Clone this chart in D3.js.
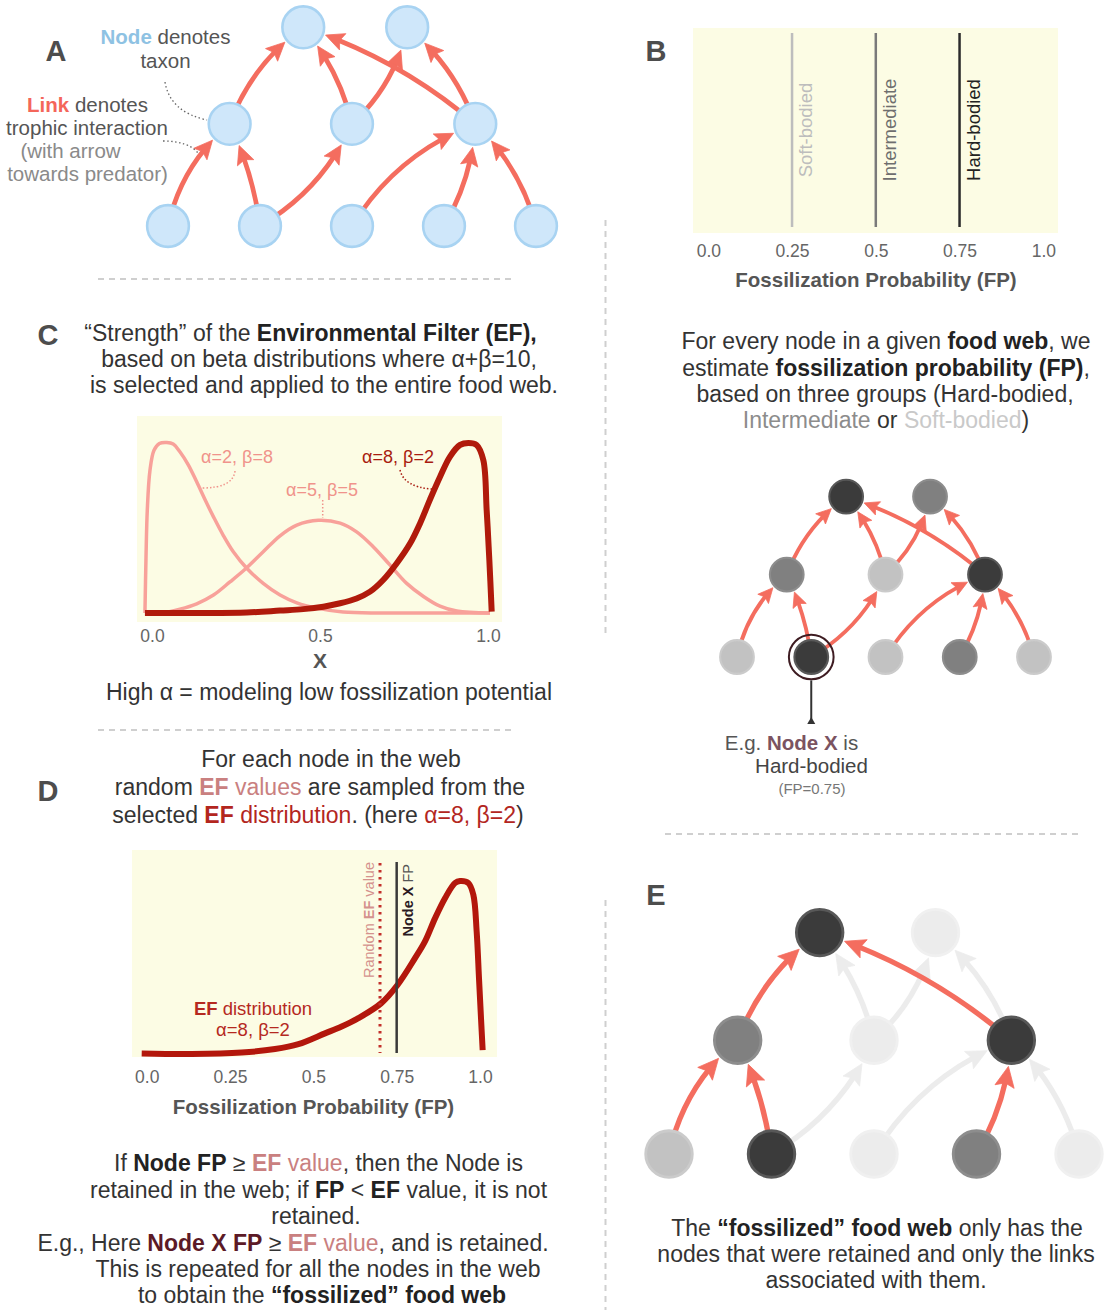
<!DOCTYPE html>
<html><head><meta charset="utf-8">
<script src="https://cdn.jsdelivr.net/npm/d3@7"></script>
<style>body{margin:0;background:#fff}svg{display:block}</style>
</head><body>
<svg id="c" width="1107" height="1310"></svg>
<script>
// ---------------- DATA ----------------
// food-web nodes (column position, trophic level, FP group, retained in E)
const nodeIds       = ["t1","t2","m1","m2","m3","b1","b2","b3","b4","b5"];
const nodeCol       = [1.47, 2.6, 0.67, 2.0, 3.34, 0, 1, 2, 3, 4];
const nodeLevel     = [2, 2, 1, 1, 1, 0, 0, 0, 0, 0];
const levelY        = [0, 1.11, 2.16];
const nodeGroup     = ["Hard","Intermediate","Intermediate","Soft","Hard","Soft","Hard","Soft","Intermediate","Soft"];
const nodeRetained  = [true,false,true,false,true,true,true,false,true,false];
const nodeX         = "b2";
// trophic links: prey -> predator, bend
const edges = [
  ["b1","m1", 0.17], ["b2","m1",-0.08], ["b2","m2",-0.16], ["b3","m3", 0.17],
  ["b4","m3",-0.12], ["b5","m3",-0.14], ["m1","t1", 0.15], ["m2","t1",-0.12],
  ["m2","t2",-0.16], ["m3","t1",-0.10], ["m3","t2",-0.14]
];
// panel B: FP per group
const groups      = ["Soft-bodied","Intermediate","Hard-bodied"];
const groupKeys   = ["Soft","Intermediate","Hard"];
const groupFP     = [0.25, 0.5, 0.75];
const bTicks      = [0, 0.25, 0.5, 0.75, 1];
const bTickLabels = ["0.0","0.25","0.5","0.75","1.0"];
// panel C: beta density curves [x, density]
const curveA2B8 = [[-0.021,0],[-0.018,1.09],[-0.014,2.12],[-0.006,2.94],[0.006,3.35],[0.022,3.49],[0.044,3.51],[0.063,3.48],[0.083,3.32],[0.108,3.05],[0.133,2.70],[0.158,2.33],[0.183,1.98],[0.212,1.60],[0.242,1.26],[0.282,0.92],[0.331,0.61],[0.381,0.37],[0.431,0.21],[0.490,0.10],[0.569,0.02],[0.679,0],[0.827,0],[1.006,0]];
const curveA5B5 = [[-0.021,0],[0.034,0.01],[0.083,0.08],[0.133,0.19],[0.183,0.37],[0.232,0.64],[0.277,0.90],[0.331,1.26],[0.381,1.59],[0.431,1.81],[0.495,1.91],[0.560,1.85],[0.609,1.67],[0.659,1.36],[0.708,0.99],[0.758,0.61],[0.808,0.34],[0.857,0.14],[0.907,0.04],[1.006,0]];
const curveA8B2 = [[-0.021,0],[0.133,0],[0.282,0.01],[0.381,0.05],[0.450,0.08],[0.510,0.13],[0.560,0.20],[0.609,0.30],[0.649,0.44],[0.688,0.68],[0.728,1.02],[0.768,1.43],[0.798,1.85],[0.827,2.33],[0.857,2.80],[0.887,3.22],[0.917,3.46],[0.942,3.50],[0.966,3.46],[0.986,3.15],[0.996,2.12],[1.004,1.09],[1.011,0.03]];
const cTicks      = [0, 0.5, 1];
const cTickLabels = ["0.0","0.5","1.0"];
// panel D
const efCurve = [[-0.015,0.01],[0.135,0],[0.285,0.03],[0.385,0.10],[0.455,0.20],[0.535,0.42],[0.585,0.56],[0.635,0.73],[0.703,1.03],[0.753,1.41],[0.805,1.95],[0.835,2.29],[0.865,2.76],[0.895,3.17],[0.925,3.48],[0.940,3.52],[0.965,3.48],[0.980,3.24],[0.990,2.49],[0.997,1.54],[1.003,0.73],[1.008,0.08]];
const efValue = 0.70;
const nodeXFP = 0.75;
const dTicks      = [0, 0.25, 0.5, 0.75, 1];
const dTickLabels = ["0.0","0.25","0.5","0.75","1.0"];

// ---------------- STYLE ----------------
const FONT = "'Liberation Sans', Arial, Helvetica, sans-serif";
const LINK = "#f46d5f", FADED = "#ececec", BG = "#fcfce4";
const PINK = "#c98080", RED = "#b3261e";
const grpFill   = {Hard:"#3b3b3b", Intermediate:"#808080", Soft:"#c2c2c2"};
const grpStroke = {Hard:"#585858", Intermediate:"#8d8d8d", Soft:"#cbcbcb"};
const grpLine   = {Hard:"#2b2b2b", Intermediate:"#7a7a7a", Soft:"#bdbdbd"};
const grpText   = {Hard:"#222222", Intermediate:"#6e6e6e", Soft:"#bdbdbd"};

const svg = d3.select("#c");
svg.append("rect").attr("width",1107).attr("height",1310).attr("fill","#fff");

function addText(parent, x, y, parts, o = {}) {
  const t = parent.append("text").attr("x", x).attr("y", y)
    .attr("text-anchor", o.anchor || "middle")
    .attr("font-family", FONT).attr("font-size", o.size || 23)
    .attr("fill", o.fill || "#333").style("white-space", "pre");
  if (o.transform) t.attr("transform", o.transform);
  if (o.weight) t.attr("font-weight", o.weight);
  (Array.isArray(parts) ? parts : [parts]).forEach(p => {
    if (typeof p === "string") t.append("tspan").text(p);
    else {
      const s = t.append("tspan").text(p.t);
      if (p.b) s.attr("font-weight", "bold");
      if (p.c) s.attr("fill", p.c);
    }
  });
  return t;
}
function letter(x, y, s) {
  addText(svg, x, y, s, {size: 29, weight: "bold", fill: "#4d4d4d"});
}
function sep(x1, y1, x2, y2) {
  svg.append("line").attr("x1",x1).attr("y1",y1).attr("x2",x2).attr("y2",y2)
    .attr("stroke","#cfcfcf").attr("stroke-width",2).attr("stroke-dasharray","6,5");
}
function axis(g, scale, y, ticks, labels, pad) {
  const ax = g.append("g").attr("transform", `translate(0,${y})`)
    .call(d3.axisBottom(scale).tickValues(ticks).tickFormat((d, i) => labels[i]).tickSize(0).tickPadding(pad));
  ax.select(".domain").remove();
  ax.selectAll("text").attr("font-family", FONT).attr("font-size", 17.5).attr("fill", "#666");
}

// ---------------- FOOD WEB ----------------
function drawWeb(g, x0, y0, u, mode) {
  const xs = d3.scaleLinear().domain([0, 4]).range([x0, x0 + 4 * u]);
  const ys = d3.scaleLinear().domain([0, 1]).range([y0, y0 - u]);
  const pos = {};
  nodeIds.forEach((id, i) => pos[id] = {x: xs(nodeCol[i]), y: ys(levelY[nodeLevel[i]]), i});
  const r = 0.227 * u, gap = 0.03 * u, L = 0.2 * u, W = 0.19 * u, sw = 0.052 * u;
  const kept = id => nodeRetained[nodeIds.indexOf(id)];
  const links = edges.map(e => ({s: e[0], t: e[1], bend: e[2], on: mode !== "E" || (kept(e[0]) && kept(e[1]))}));
  links.sort((a, b) => a.on - b.on);
  const dist = (p, q) => Math.hypot(p[0] - q[0], p[1] - q[1]);
  links.forEach(l => {
    const S = [pos[l.s].x, pos[l.s].y], T = [pos[l.t].x, pos[l.t].y];
    const dx = T[0] - S[0], dy = T[1] - S[1], len = Math.hypot(dx, dy);
    const n = [dy / len, -dx / len];
    const C = [(S[0] + T[0]) / 2 + l.bend * len * n[0], (S[1] + T[1]) / 2 + l.bend * len * n[1]];
    const B = t => { const a = (1 - t) * (1 - t), b = 2 * (1 - t) * t, c = t * t;
      return [a * S[0] + b * C[0] + c * T[0], a * S[1] + b * C[1] + c * T[1]]; };
    let lo = 0, hi = 1;
    for (let k = 0; k < 40; k++) { const m = (lo + hi) / 2; if (dist(B(m), T) > r + gap) lo = m; else hi = m; }
    const te = lo, tip = B(te);
    lo = 0; hi = te;
    for (let k = 0; k < 40; k++) { const m = (lo + hi) / 2; if (dist(B(m), tip) > 0.65 * L) lo = m; else hi = m; }
    const tb = lo, base = B(tb);
    const C1 = [S[0] + tb * (C[0] - S[0]), S[1] + tb * (C[1] - S[1])];
    const col = l.on ? LINK : FADED;
    g.append("path").attr("d", `M${S[0]},${S[1]}Q${C1[0]},${C1[1]} ${base[0]},${base[1]}`)
      .attr("fill", "none").attr("stroke", col).attr("stroke-width", sw);
    const dl = dist(tip, base), d = [(tip[0] - base[0]) / dl, (tip[1] - base[1]) / dl], pp = [-d[1], d[0]];
    const back = [tip[0] - L * d[0], tip[1] - L * d[1]];
    const notch = [tip[0] - 0.82 * L * d[0], tip[1] - 0.82 * L * d[1]];
    const pts = [tip, [back[0] + W / 2 * pp[0], back[1] + W / 2 * pp[1]], notch, [back[0] - W / 2 * pp[0], back[1] - W / 2 * pp[1]]];
    g.append("polygon").attr("points", pts.map(p => p.join(",")).join(" ")).attr("fill", col)
      .attr("stroke", col).attr("stroke-width", 0.8).attr("stroke-linejoin", "round");
  });
  nodeIds.forEach((id, i) => {
    let fill, stroke;
    if (mode === "A") { fill = "#cfe7fa"; stroke = "#a8d3f2"; }
    else if (mode === "E" && !nodeRetained[i]) { fill = "#ececec"; stroke = "#f0f0f0"; }
    else { fill = grpFill[nodeGroup[i]]; stroke = grpStroke[nodeGroup[i]]; }
    g.append("circle").attr("cx", pos[id].x).attr("cy", pos[id].y).attr("r", r)
      .attr("fill", fill).attr("stroke", stroke).attr("stroke-width", Math.max(1.5, 0.028 * u));
  });
  return {pos, r};
}

// ---------------- PANEL A ----------------
letter(56, 61, "A");
const gA = svg.append("g");
drawWeb(gA, 168, 226, 92, "A");
addText(svg, 165.5, 44, [{t: "Node", b: true, c: "#8ec2e3"}, " denotes"], {size: 20.5, fill: "#555"});
addText(svg, 165.5, 68, "taxon", {size: 20.5, fill: "#555"});
addText(svg, 87.5, 112, [{t: "Link", b: true, c: "#f4665a"}, " denotes"], {size: 20.5, fill: "#555"});
addText(svg, 87, 135, "trophic interaction", {size: 20.5, fill: "#555"});
addText(svg, 70.5, 158, "(with arrow", {size: 20.5, fill: "#8a8a8a"});
addText(svg, 87.5, 181, "towards predator)", {size: 20.5, fill: "#8a8a8a"});
svg.append("path").attr("d", "M165,82 Q170,112 207,120").attr("fill", "none")
  .attr("stroke", "#666").attr("stroke-width", 1.3).attr("stroke-dasharray", "1.5,2.5");
svg.append("path").attr("d", "M163,141 Q188,141 198,153").attr("fill", "none")
  .attr("stroke", "#666").attr("stroke-width", 1.3).attr("stroke-dasharray", "1.5,2.5");

// ---------------- PANEL B ----------------
letter(656, 61, "B");
const gB = svg.append("g");
const bX = d3.scaleLinear().domain([0, 1]).range([708.3, 1043.3]);
gB.append("rect").attr("x", 693).attr("y", 28).attr("width", 365).attr("height", 205).attr("fill", BG);
groups.forEach((name, i) => {
  const k = groupKeys[i], x = bX(groupFP[i]);
  gB.append("line").attr("x1", x).attr("x2", x).attr("y1", 33).attr("y2", 227)
    .attr("stroke", grpLine[k]).attr("stroke-width", 2.5);
  addText(gB, 0, 0, name, {size: 18.5, fill: grpText[k], transform: `translate(${x + 20},130) rotate(-90)`});
});
axis(gB, bX, 233, bTicks, bTickLabels, 12);
addText(gB, 876, 287, "Fossilization Probability (FP)", {size: 20.5, weight: "bold", fill: "#555"});

addText(svg, 886, 349, ["For every node in a given ", {t: "food web", b: true, c: "#222"}, ", we"]);
addText(svg, 886, 376, ["estimate ", {t: "fossilization probability (FP)", b: true, c: "#222"}, ","]);
addText(svg, 885, 402, "based on three groups (Hard-bodied,");
addText(svg, 886, 428, [{t: "Intermediate", c: "#8c8c8c"}, " or ", {t: "Soft-bodied", c: "#c9c9c9"}, ")"]);

const gB2 = svg.append("g");
const web2 = drawWeb(gB2, 737, 657, 74.25, "B");
const px = web2.pos[nodeX];
gB2.append("circle").attr("cx", px.x).attr("cy", px.y).attr("r", web2.r + 5.5)
  .attr("fill", "none").attr("stroke", "#3e1c22").attr("stroke-width", 2);
gB2.append("line").attr("x1", px.x).attr("x2", px.x).attr("y1", px.y + web2.r + 6.5).attr("y2", 723)
  .attr("stroke", "#333").attr("stroke-width", 2);
gB2.append("polygon").attr("points", `${px.x - 4},724 ${px.x + 4},724 ${px.x},717`).attr("fill", "#333");
addText(svg, 791.5, 750, ["E.g. ", {t: "Node X", b: true, c: "#7b5361"}, " is"], {size: 20.5, fill: "#555"});
addText(svg, 811.5, 773, "Hard-bodied", {size: 20.5, fill: "#444"});
addText(svg, 812, 794, "(FP=0.75)", {size: 15, fill: "#777"});

// ---------------- PANEL C ----------------
letter(48, 345, "C");
addText(svg, 310.5, 341, ["“Strength” of the ", {t: "Environmental Filter (EF),", b: true, c: "#222"}]);
addText(svg, 319, 367, "based on beta distributions where α+β=10,");
addText(svg, 324, 393, "is selected and applied to the entire food web.");
const gC = svg.append("g");
const cX = d3.scaleLinear().domain([0, 1]).range([152, 488]);
const cY = d3.scaleLinear().domain([0, 3.5]).range([613, 443]);
gC.append("rect").attr("x", 137).attr("y", 416).attr("width", 365).attr("height", 206).attr("fill", BG);
const lineC = d3.line().x(d => cX(d[0])).y(d => cY(d[1])).curve(d3.curveCatmullRom.alpha(0.5));
[curveA2B8, curveA5B5].forEach(cv => gC.append("path").attr("d", lineC(cv)).attr("fill", "none")
  .attr("stroke", "#f8a19a").attr("stroke-width", 3.5));
gC.append("path").attr("d", lineC(curveA8B2)).attr("fill", "none")
  .attr("stroke", "#b01a0b").attr("stroke-width", 6);
addText(gC, 237, 463, "α=2, β=8", {size: 18, fill: "#f0938b"});
addText(gC, 322, 496, "α=5, β=5", {size: 18, fill: "#f0938b"});
addText(gC, 398, 463, "α=8, β=2", {size: 18, fill: "#a81b10"});
gC.append("path").attr("d", "M235,471 Q233,488 202,488").attr("fill", "none").attr("stroke", "#f0938b")
  .attr("stroke-width", 1.5).attr("stroke-dasharray", "1.5,2");
gC.append("path").attr("d", "M322.7,500 L322.7,518").attr("fill", "none").attr("stroke", "#f0938b")
  .attr("stroke-width", 1.5).attr("stroke-dasharray", "1.5,2");
gC.append("path").attr("d", "M400,470 Q404,487 432,489").attr("fill", "none").attr("stroke", "#a81b10")
  .attr("stroke-width", 1.5).attr("stroke-dasharray", "1.5,2");
axis(gC, cX, 622, cTicks, cTickLabels, 8);
addText(svg, 320, 668, "X", {size: 21, weight: "bold", fill: "#555"});
addText(svg, 329, 700, "High α = modeling low fossilization potential");

// ---------------- PANEL D ----------------
letter(48, 801, "D");
addText(svg, 331, 767, "For each node in the web");
addText(svg, 320, 795, ["random ", {t: "EF", b: true, c: PINK}, {t: " values", c: PINK}, " are sampled from the"]);
addText(svg, 318, 823, ["selected ", {t: "EF", b: true, c: RED}, {t: " distribution", c: RED}, ". (here ", {t: "α=8, β=2", c: RED}, ")"]);
const gD = svg.append("g");
const dX = d3.scaleLinear().domain([0, 1]).range([146.7, 480]);
const dY = d3.scaleLinear().domain([0, 3.5]).range([1054, 882]);
gD.append("rect").attr("x", 132).attr("y", 850).attr("width", 365).attr("height", 207).attr("fill", BG);
gD.append("path").attr("d", d3.line().x(d => dX(d[0])).y(d => dY(d[1])).curve(d3.curveCatmullRom.alpha(0.5))(efCurve))
  .attr("fill", "none").attr("stroke", "#b3170c").attr("stroke-width", 6);
gD.append("line").attr("x1", dX(efValue)).attr("x2", dX(efValue)).attr("y1", 863).attr("y2", 1053)
  .attr("stroke", "#c3302b").attr("stroke-width", 3).attr("stroke-dasharray", "2.5,4.5");
gD.append("line").attr("x1", dX(nodeXFP)).attr("x2", dX(nodeXFP)).attr("y1", 862).attr("y2", 1053)
  .attr("stroke", "#3a3a3a").attr("stroke-width", 2.5);
addText(gD, 0, 0, ["Random ", {t: "EF", b: true}, " value"], {size: 14.5, fill: "#d4928d", anchor: "end",
  transform: `translate(${dX(efValue) - 6},862) rotate(-90)`});
addText(gD, 0, 0, [{t: "Node X", b: true, c: "#2b1a1f"}, " FP"], {size: 14.5, fill: "#555", anchor: "end",
  transform: `translate(${dX(nodeXFP) + 16.5},864) rotate(-90)`});
addText(gD, 253, 1015, [{t: "EF", b: true}, " distribution"], {size: 18.5, fill: "#b5291f"});
addText(gD, 253, 1036, "α=8, β=2", {size: 18.5, fill: "#b5291f"});
axis(gD, dX, 1057, dTicks, dTickLabels, 13.5);
addText(svg, 313.5, 1114, "Fossilization Probability (FP)", {size: 20.5, weight: "bold", fill: "#555"});

addText(svg, 318.5, 1171, ["If ", {t: "Node FP", b: true, c: "#222"}, " ≥ ", {t: "EF", b: true, c: PINK}, {t: " value", c: PINK}, ", then the Node is"]);
addText(svg, 318.5, 1198, ["retained in the web; if ", {t: "FP", b: true, c: "#222"}, " < ", {t: "EF", b: true, c: "#222"}, " value, it is not"]);
addText(svg, 316, 1224, "retained.");
addText(svg, 293, 1251, ["E.g., Here ", {t: "Node X FP", b: true, c: "#5c1a26"}, " ≥ ", {t: "EF", b: true, c: PINK}, {t: " value", c: PINK}, ", and is retained."]);
addText(svg, 318, 1277, "This is repeated for all the nodes in the web");
addText(svg, 322, 1303, ["to obtain the ", {t: "“fossilized” food web", b: true, c: "#222"}]);

// ---------------- PANEL E ----------------
letter(656, 905, "E");
const gE = svg.append("g");
drawWeb(gE, 669, 1154, 102.5, "E");
addText(svg, 877, 1236, ["The ", {t: "“fossilized” food web", b: true, c: "#222"}, " only has the"]);
addText(svg, 876, 1262, "nodes that were retained and only the links");
addText(svg, 876, 1288, "associated with them.");

// ---------------- SEPARATORS ----------------
sep(98, 279, 512, 279);
sep(98, 730, 515, 730);
sep(665, 834, 1082, 834);
sep(605.5, 220, 605.5, 634);
sep(605.5, 900, 605.5, 1310);
</script>
</body></html>
